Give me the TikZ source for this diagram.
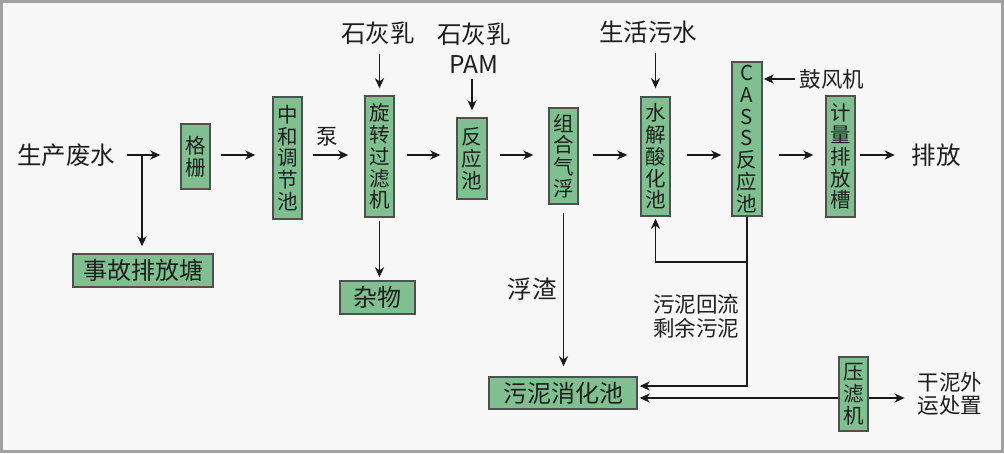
\documentclass[tikz,border=0pt]{standalone}
\usepackage{fontspec}
\setmainfont{Noto Sans CJK SC}
\newfontfamily\cjk{Noto Sans CJK SC}
\usetikzlibrary{arrows.meta,calc}
\definecolor{boxgreen}{RGB}{128,192,144}
\definecolor{boxline}{RGB}{80,80,80}
\definecolor{bgc}{RGB}{247,247,247}
\definecolor{framec}{RGB}{160,160,160}
\definecolor{txt}{RGB}{30,30,30}
\tikzset{
  box/.style={draw=boxline, fill=boxgreen, line width=1.4pt, inner sep=0pt, align=center,
    minimum width=29pt, text=txt, font=\cjk\fontsize{20.5}{21.8}\selectfont},
  wbox/.style={draw=boxline, fill=boxgreen, line width=1.4pt, inner sep=0pt, align=center,
    text=txt, font=\cjk\fontsize{24}{28}\selectfont},
  lab/.style={inner sep=0pt, align=center, text=txt, font=\cjk\fontsize{24.5}{30}\selectfont},
  slab/.style={inner sep=0pt, align=center, text=txt, font=\cjk\fontsize{21.5}{23.5}\selectfont},
  arr/.style={draw=black!90, line width=1.8pt, -{Stealth[length=10pt,width=9pt,inset=3pt]}}
}
\begin{document}
\begin{tikzpicture}[x=1pt,y=-1pt]
\useasboundingbox (0,0) rectangle (1004,453);
\fill[bgc] (0,0) rectangle (1004,453);
\draw[framec, line width=3pt] (1.5,1.5) rectangle (1002.5,451.5);

% process boxes
\node[box, minimum height=65pt] (gz) at (195.5,156.5) {格\\栅};
\node[box, minimum height=122pt] (zh) at (287.5,158) {中\\和\\调\\节\\池};
\node[box, minimum height=121pt] (xz) at (379.5,156.5) {旋\\转\\过\\滤\\机};
\node[box, minimum height=81pt, minimum width=30pt] (fy) at (472,158.5) {反\\应\\池};
\node[box, minimum height=96pt] (zq) at (563.5,156) {组\\合\\气\\浮};
\node[box, minimum height=119pt] (sj) at (655.5,156.5) {水\\解\\酸\\化\\池};
\node[box, minimum height=154pt, minimum width=30pt] (cass) at (747,139) {C\\A\\S\\S\\反\\应\\池};
\node[box, minimum height=121pt] (jl) at (840.5,156.5) {计\\量\\排\\放\\槽};
\node[box, minimum height=74pt] (ylj) at (853.5,394) {压\\滤\\机};
\node[wbox, minimum width=140pt, minimum height=33pt] (sg) at (143,270.5) {事故排放塘};
\node[wbox, minimum width=75pt, minimum height=33pt] (zw) at (377.5,297.5) {杂物};
\node[wbox, minimum width=148pt, minimum height=32pt] (wn) at (563,393) {污泥消化池};

% labels
\node[lab] (sc) at (66,155) {生产废水};
\node[slab] (beng) at (327,137) {泵};
\node[lab] (sh1) at (378,33) {石灰乳};
\node[lab] (sh2) at (474,48) {石灰乳\\PAM};
\node[lab] (shws) at (648,32) {生活污水};
\node[slab] (gfj) at (832,79) {鼓风机};
\node[lab] (pf) at (936,155) {排放};
\node[lab] (fz) at (532,289) {浮渣};
\node[slab, font=\cjk\fontsize{21.5}{24}\selectfont] (wnhl) at (696,316) {污泥回流\\剩余污泥};
\node[slab, font=\cjk\fontsize{21.5}{23}\selectfont] (gn) at (950,393.5) {干泥外\\运处置};

% helper coordinates
\coordinate (m) at (0,155);
\coordinate (br) at (142,155);
\coordinate (r1) at (0,262);
\coordinate (r2) at (0,386);
\coordinate (r3) at (0,398);

% main line
\draw[arr, shorten <=12pt, shorten >=20pt] (sc.east |- m) -- (gz.west |- m);
\draw[arr, shorten <=10pt, shorten >=17pt] (gz.east |- m) -- (zh.west |- m);
\draw[arr, shorten <=10pt, shorten >=16pt] (zh.east |- m) -- (xz.west |- m);
\draw[arr, shorten <=12pt, shorten >=16pt] (xz.east |- m) -- (fy.west |- m);
\draw[arr, shorten <=12pt, shorten >=15pt] (fy.east |- m) -- (zq.west |- m);
\draw[arr, shorten <=14pt, shorten >=13pt] (zq.east |- m) -- (sj.west |- m);
\draw[arr, shorten <=16pt, shorten >=10pt] (sj.east |- m) -- (cass.west |- m);
\draw[arr, shorten <=16pt, shorten >=12pt] (cass.east |- m) -- (jl.west |- m);
\draw[arr, shorten <=4pt, shorten >=16.5pt] (jl.east |- m) -- (pf.west |- m);

% inputs
\draw[arr, shorten <=10pt, shorten >=7pt] (xz.north |- sh1.south) -- (xz.north);
\draw[arr, shorten <=5pt, shorten >=7pt] (fy.north |- sh2.south) -- (fy.north);
\draw[arr, shorten <=10pt, shorten >=8pt] (sj.north |- shws.south) -- (sj.north);
\draw[arr, shorten <=5pt, shorten >=1pt] (gfj.west) -- (gfj.west -| cass.east);

% branches
\draw[arr, shorten >=7pt] (br) -- (br |- sg.north);
\draw[arr, shorten <=3pt, shorten >=3pt] (xz.south) -- (xz.south |- zw.north);
\draw[arr, shorten <=8pt, shorten >=10pt] (zq.south) -- (zq.south |- wn.north);

% sludge lines
\draw[arr, shorten >=2pt] (cass.south) -- (cass.south |- r2) -- (r2 -| wn.east);
\draw[arr, shorten >=2pt] (cass.south |- r1) -- (r1 -| sj.south) -- (sj.south);
\draw[arr, shorten >=2pt] (ylj.west |- r3) -- (r3 -| wn.east);
\draw[arr, shorten >=13pt] (ylj.east |- r3) -- (gn.west |- r3);
\end{tikzpicture}
\end{document}
